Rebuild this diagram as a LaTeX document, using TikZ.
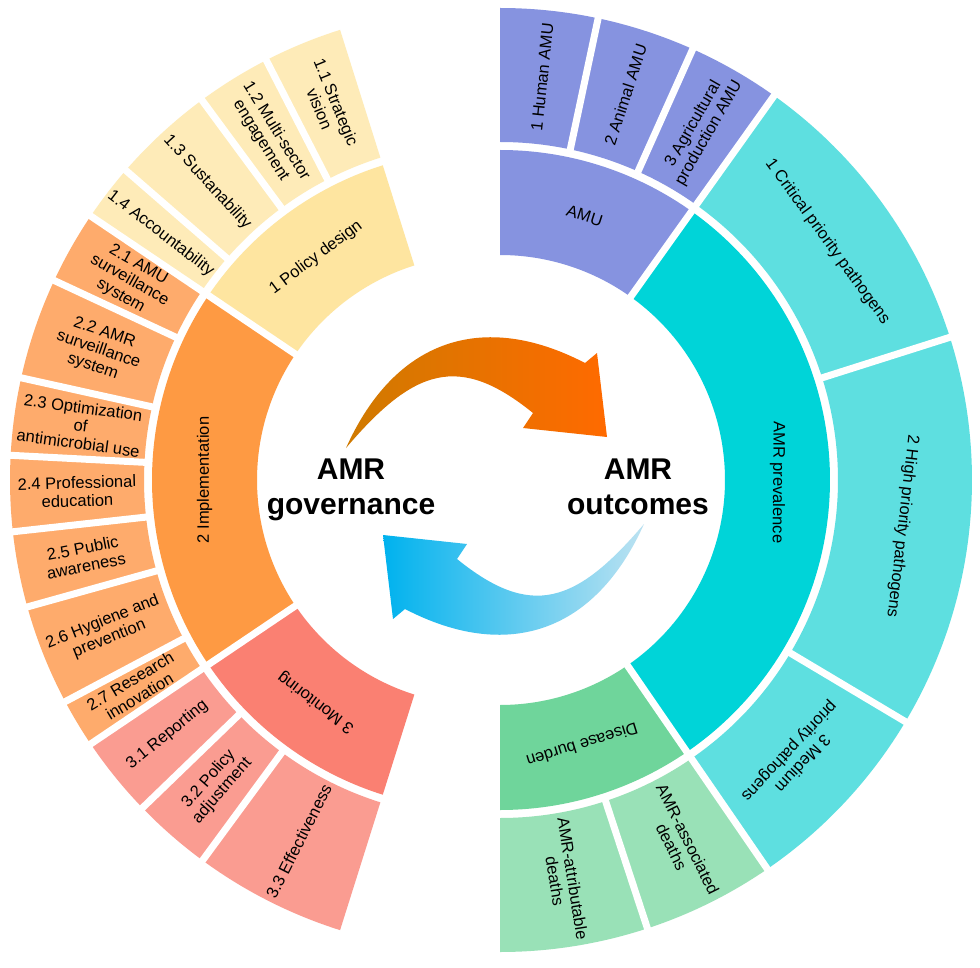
\documentclass[tikz,border=0pt]{standalone}
\usepackage{fontspec}
\setmainfont{Liberation Sans}
\usetikzlibrary{calc}

\definecolor{pdin}{HTML}{FEE5A0}
\definecolor{pdout}{HTML}{FEEBB8}
\definecolor{imin}{HTML}{FE9A43}
\definecolor{imout}{HTML}{FEAB6C}
\definecolor{moin}{HTML}{FA8072}
\definecolor{moout}{HTML}{FA9C91}
\definecolor{amu}{HTML}{8693E0}
\definecolor{prin}{HTML}{00D4D8}
\definecolor{prout}{HTML}{5EDFE0}
\definecolor{dbin}{HTML}{6FD59B}
\definecolor{dbout}{HTML}{99E1B7}
\definecolor{orA}{HTML}{CF7A00}
\definecolor{orB}{HTML}{FF9000}
\definecolor{orC}{HTML}{FF6A00}
\definecolor{blA}{HTML}{00B2EE}
\definecolor{blB}{HTML}{4EC3EC}
\definecolor{blC}{HTML}{BCE2F1}

% centre, start angle, end angle, inner radius, outer radius, colour
\newcommand{\ringpart}[6]{\fill[#6] ($(#1)+(#2:#4)$) arc[start angle=#2, end angle=#3, radius=#4] -- ($(#1)+(#3:#5)$) arc[start angle=#3, end angle=#2, radius=#5] -- cycle;}

\begin{document}
\begin{tikzpicture}[x=1pt, y=1pt,
  lbl/.style = {align=center, inner sep=0pt, font=\fontsize{16.5}{18}\selectfont},
  mid/.style = {align=center, inner sep=0pt, anchor=north, font=\fontsize{30}{35}\selectfont\bfseries},
  gap/.style = {white, line width=7}]

  \path[use as bounding box, fill=white] (0,0) rectangle (980,-968);
  \coordinate (L) at (482,-480);
  \coordinate (R) at (500,-480);

  \ringpart{L}{107.5}{146}{225}{330}{pdin}
  \ringpart{L}{146}{214}{225}{330}{imin}
  \ringpart{L}{214}{252.5}{225}{330}{moin}
  \ringpart{L}{107.5}{146}{338}{472}{pdout}
  \ringpart{L}{146}{214}{338}{472}{imout}
  \ringpart{L}{214}{252.5}{338}{472}{moout}

  \ringpart{R}{54.5}{90}{225}{330}{amu}
  \ringpart{R}{-55.5}{54.5}{225}{330}{prin}
  \ringpart{R}{-90}{-55.5}{225}{330}{dbin}
  \ringpart{R}{54.5}{90}{338}{472}{amu}
  \ringpart{R}{-55.5}{54.5}{338}{472}{prout}
  \ringpart{R}{-90}{-55.5}{338}{472}{dbout}

  \foreach \a in {146,214}
    \draw[gap] ($(L)+(\a:220)$) -- ($(L)+(\a:480)$);
  \foreach \a in {117.2,126.4,139,155,167.5,177,186.3,195.6,208,224,233.7}
    \draw[gap] ($(L)+(\a:334)$) -- ($(L)+(\a:480)$);
  \foreach \a in {54.5,-55.5}
    \draw[gap] ($(R)+(\a:220)$) -- ($(R)+(\a:480)$);
  \foreach \a in {78,65.9,17.6,-30.8,-71.8}
    \draw[gap] ($(R)+(\a:334)$) -- ($(R)+(\a:480)$);

  \node[lbl, rotate=36.75] (pd) at ($(L)+(126.75:277.5)$) {1 Policy design};
  \node[lbl, rotate=90] (im) at ($(L)+(180:277.5)$) {2 Implementation};
  \node[lbl, rotate=143.25] (mo) at ($(L)+(233.25:277.5)$) {3 Monitoring};

  \node[lbl, rotate=-67.65] (s11) at ($(L)+(112.35:405)$) {1.1 Strategic\\vision};
  \node[lbl, rotate=-58.2] (s12) at ($(L)+(121.8:405)$) {1.2 Multi-sector\\engagement};
  \node[lbl, rotate=-47.3] (s13) at ($(L)+(132.7:405)$) {1.3 Sustanability};
  \node[lbl, rotate=-37.5] (s14) at ($(L)+(142.5:405)$) {1.4 Accountability};
  \node[lbl, rotate=-29.5] (s21) at ($(L)+(150.5:405)$) {2.1 AMU\\surveillance\\system};
  \node[lbl, rotate=-18.75] (s22) at ($(L)+(161.25:405)$) {2.2 AMR\\surveillance\\system};
  \node[lbl, rotate=-7.75] (s23) at ($(L)+(172.25:405)$) {2.3 Optimization\\of\\antimicrobial use};
  \node[lbl, rotate=1.65] (s24) at ($(L)+(181.65:405)$) {2.4 Professional\\education};
  \node[lbl, rotate=10.95] (s25) at ($(L)+(190.95:405)$) {2.5 Public\\awareness};
  \node[lbl, rotate=21.8] (s26) at ($(L)+(201.8:405)$) {2.6 Hygiene and\\prevention};
  \node[lbl, rotate=31] (s27) at ($(L)+(211:405)$) {2.7 Research\\innovation};
  \node[lbl, rotate=39] (s31) at ($(L)+(219:405)$) {3.1 Reporting};
  \node[lbl, rotate=48.85] (s32) at ($(L)+(228.85:405)$) {3.2 Policy\\adjustment};
  \node[lbl, rotate=63.1] (s33) at ($(L)+(243.1:405)$) {3.3 Effectiveness};

  \node[lbl, rotate=-17.75] (amu) at ($(R)+(72.25:277.5)$) {AMU};
  \node[lbl, rotate=-90.5] (pr) at ($(R)+(-0.5:277.5)$) {AMR prevalence};
  \node[lbl, rotate=-162.75] (db) at ($(R)+(-72.75:277.5)$) {Disease burden};

  \node[lbl, rotate=84] (hu) at ($(R)+(84:405)$) {1 Human AMU};
  \node[lbl, rotate=71.95] (an) at ($(R)+(71.95:405)$) {2 Animal AMU};
  \node[lbl, rotate=60.2] (ag) at ($(R)+(60.2:405)$) {3 Agricultural\\production AMU};
  \node[lbl, rotate=-53.95] (cr) at ($(R)+(36.05:405)$) {1 Critical priority pathogens};
  \node[lbl, rotate=-96.6] (hi) at ($(R)+(-6.6:405)$) {2 High priority pathogens};
  \node[lbl, rotate=-133.15] (me) at ($(R)+(-43.15:405)$) {3 Medium\\priority pathogens};
  \node[lbl, rotate=-63.65] (as) at ($(R)+(-63.65:405)$) {AMR-associated\\deaths};
  \node[lbl, rotate=-80.9] (at) at ($(R)+(-80.9:405)$) {AMR-attributable\\deaths};

  \shade[left color=orA, middle color=orB, right color=orC]
    (346,-448) .. controls (395,-339) and (483,-310) .. (585,-363) -- (597,-353) -- (607,-437)
    -- (523,-428) -- (533,-413) .. controls (459,-353) and (414,-368) .. (346,-448) -- cycle;
  \shade[left color=blA, middle color=blB, right color=blC]
    (644,-524) .. controls (595,-633) and (507,-662) .. (405,-609) -- (393,-619) -- (383,-535)
    -- (467,-544) -- (457,-559) .. controls (531,-619) and (576,-604) .. (644,-524) -- cycle;

  \node[mid] (gov) at (351,-459) {AMR\\governance};
  \node[mid] (out) at (638,-459) {AMR\\outcomes};
\end{tikzpicture}
\end{document}
